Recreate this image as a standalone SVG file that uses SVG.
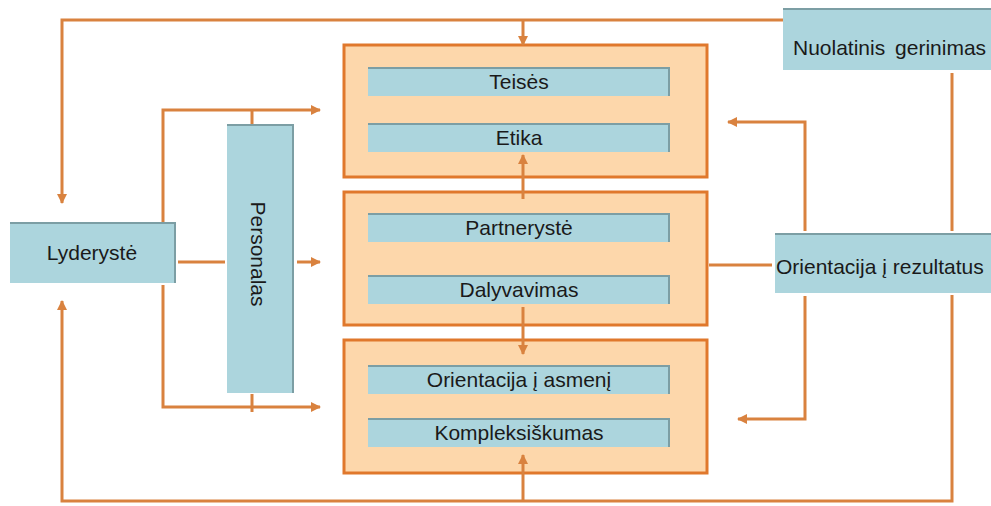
<svg xmlns="http://www.w3.org/2000/svg" width="991" height="506" viewBox="0 0 991 506">
  <style>
    .frame { fill: #fdd7ab; stroke: #e0782c; stroke-width: 3; }
    .bar { fill: #acd5dd; }
    .edge { fill: none; stroke: #7c9ea4; stroke-width: 2; }
    .lbl { font-family: "Liberation Sans", Arial, sans-serif; font-size: 21px; fill: #1a1a1a; }
    .mid { text-anchor: middle; }
    .con { fill: none; stroke: #d9823f; stroke-width: 3; }
  </style>
  <defs>
    <marker id="arr" viewBox="0 0 10 10" refX="9" refY="5" markerWidth="10" markerHeight="10" markerUnits="userSpaceOnUse" orient="auto">
      <path d="M0,0 L10,5 L0,10 z" fill="#d9823f"/>
    </marker>
  </defs>
  <rect width="991" height="506" fill="#ffffff"/>

  <g id="group-1">
    <rect class="frame" x="344" y="45" width="363" height="132"/>
  </g>
  <g id="group-2">
    <rect class="frame" x="344" y="192" width="363" height="133"/>
  </g>
  <g id="group-3">
    <rect class="frame" x="344" y="340" width="363" height="133"/>
  </g>

  <g id="teises">
    <rect class="bar" x="368" y="67" width="302" height="29"/>
    <path class="edge" d="M368,68 H669 V96"/>
    <text class="lbl mid" x="519" y="89">Teisės</text>
  </g>
  <g id="etika">
    <rect class="bar" x="368" y="123" width="302" height="29"/>
    <path class="edge" d="M368,124 H669 V152"/>
    <text class="lbl mid" x="519" y="145">Etika</text>
  </g>
  <g id="partneryste">
    <rect class="bar" x="368" y="213" width="302" height="29"/>
    <path class="edge" d="M368,214 H669 V242"/>
    <text class="lbl mid" x="519" y="235">Partnerystė</text>
  </g>
  <g id="dalyvavimas">
    <rect class="bar" x="368" y="275" width="302" height="29"/>
    <path class="edge" d="M368,276 H669 V304"/>
    <text class="lbl mid" x="519" y="297">Dalyvavimas</text>
  </g>
  <g id="orientacija-asmeni">
    <rect class="bar" x="368" y="365" width="302" height="29"/>
    <path class="edge" d="M368,366 H669 V394"/>
    <text class="lbl mid" x="519" y="387">Orientacija į asmenį</text>
  </g>
  <g id="kompleksiskumas">
    <rect class="bar" x="368" y="418" width="302" height="29"/>
    <path class="edge" d="M368,419 H669 V447"/>
    <text class="lbl mid" x="519" y="440">Kompleksiškumas</text>
  </g>

  <g id="lyderyste">
    <rect class="bar" x="10" y="222" width="166" height="61"/>
    <path class="edge" d="M10,223 H175 V283"/>
    <text class="lbl mid" x="92" y="260">Lyderystė</text>
  </g>
  <g id="personalas">
    <rect class="bar" x="227" y="124" width="67" height="269"/>
    <path class="edge" d="M227,125 H293 V393"/>
    <text class="lbl mid" transform="translate(251,254) rotate(90)" x="0" y="0">Personalas</text>
  </g>
  <g id="nuolatinis">
    <rect class="bar" x="783" y="8" width="208" height="62"/>
    <path class="edge" d="M783,9 H991"/>
    <text class="lbl" x="793" y="55" word-spacing="4">Nuolatinis gerinimas</text>
  </g>
  <g id="orientacija-rezultatus">
    <rect class="bar" x="775" y="233" width="216" height="60"/>
    <path class="edge" d="M775,234 H991"/>
    <text class="lbl" x="776" y="274">Orientacija į rezultatus</text>
  </g>

  <g id="connectors">
    <path class="con" d="M783,20 H62 V203" marker-end="url(#arr)"/>
    <path class="con" d="M523,20 V45" marker-end="url(#arr)"/>
    <path class="con" d="M163,222 V110 H320" marker-end="url(#arr)"/>
    <path class="con" d="M252,110 V124"/>
    <path class="con" d="M178,262 H225"/>
    <path class="con" d="M297,262 H320" marker-end="url(#arr)"/>
    <path class="con" d="M163,285 V407 H320" marker-end="url(#arr)"/>
    <path class="con" d="M252,394 V412"/>
    <path class="con" d="M952,295 V501 H62 V301" marker-end="url(#arr)"/>
    <path class="con" d="M523,501 V455" marker-end="url(#arr)"/>
    <path class="con" d="M952,73 V231"/>
    <path class="con" d="M772,265 H709"/>
    <path class="con" d="M805,231 V122 H728" marker-end="url(#arr)"/>
    <path class="con" d="M805,296 V419 H738" marker-end="url(#arr)"/>
    <path class="con" d="M523,199 V155" marker-end="url(#arr)"/>
    <path class="con" d="M523,307 V354" marker-end="url(#arr)"/>
  </g>
</svg>
